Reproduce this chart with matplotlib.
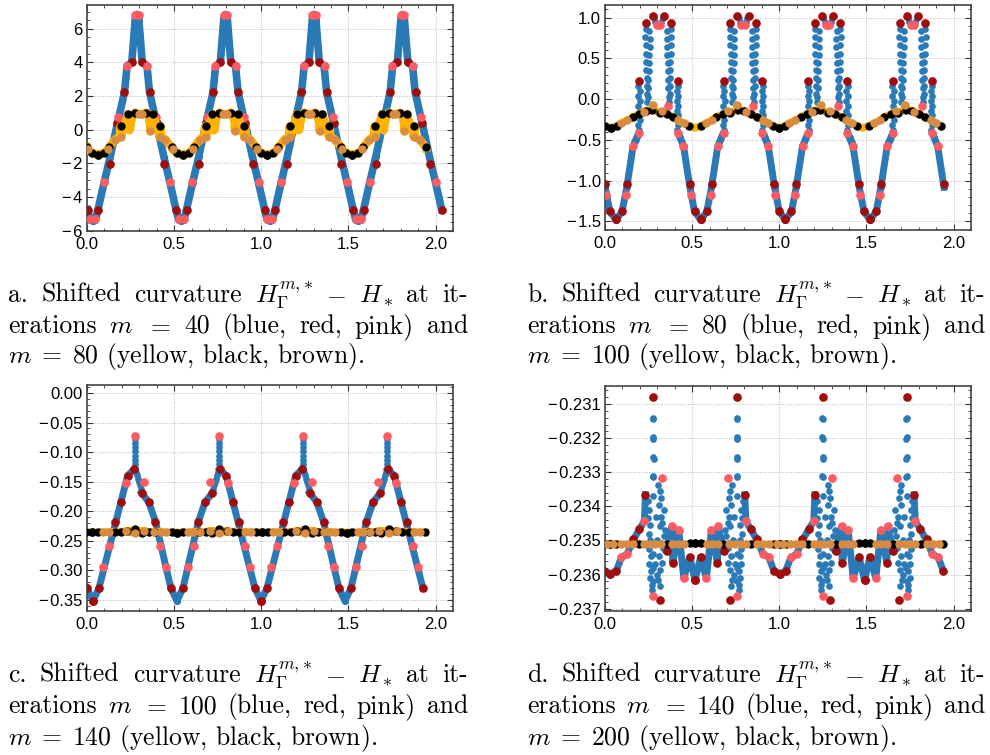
import numpy as np
import matplotlib
matplotlib.use("Agg")
import matplotlib.pyplot as plt
from matplotlib.ticker import AutoMinorLocator, MultipleLocator, FuncFormatter

plt.rcParams["font.family"] = ["Liberation Sans", "DejaVu Sans"]
plt.rcParams["mathtext.fontset"] = "cm"

nan = np.nan

# values. d = distance from the first trough; every list
# covers half a cycle, the other half is its mirror image

# m = 40 (trough -> peak)
d40_line = [0.000, 0.015, 0.030, 0.065, 0.100, 0.140, 0.182, 0.197, 0.224, 0.244, 0.254]
y40_line = [-5.40, -5.35, -4.74, -3.14, -1.60, 0.30, 2.22, 3.80, 4.00, 6.60, 6.85]
d40_red = [0.030, 0.099, 0.141, 0.180, 0.223]
y40_red = [-4.74, -2.06, 0.40, 2.24, 4.04]
d40_pink = [0.015, 0.064, 0.147, 0.194, 0.244]
y40_pink = [-5.30, -3.13, 0.76, 3.80, 6.80]

# m = 80 (trough -> peak), nan = no line in the scattered part
d80_line = [0.000, 0.035, 0.062, 0.098, 0.125, 0.200]
y80_line = [-1.48, -1.38, -1.08, -0.58, -0.44, nan]
d80_cloud = [0.105, 0.112, 0.118,
             0.128, 0.136, 0.128, 0.137, 0.129, 0.137, 0.129, 0.136, 0.128, 0.134,
             0.170, 0.192, 0.168, 0.194, 0.170, 0.193, 0.172, 0.191, 0.174, 0.189,
             0.175, 0.187, 0.176, 0.186, 0.177, 0.185, 0.178, 0.184, 0.180,
             0.218, 0.226]
y80_cloud = [-0.53, -0.50, -0.47,
             0.16, 0.10, 0.04, -0.02, -0.08, -0.14, -0.20, -0.26, -0.32, -0.38,
             0.86, 0.84, 0.76, 0.74, 0.66, 0.64, 0.56, 0.54, 0.46, 0.44,
             0.36, 0.34, 0.26, 0.24, 0.16, 0.14, 0.06, 0.03, -0.04,
             0.99, 0.95]
d80_red = [0.000, 0.035, 0.063, 0.132, 0.170, 0.211]
y80_red = [-1.47, -1.37, -1.04, 0.228, 0.935, 1.025]
d80_pink = [0.058, 0.099, 0.132, 0.234]
y80_pink = [-1.17, -0.58, -0.42, 0.914]
x80_pink_extra = [0.363, 0.849, 1.335, 1.821]
y80_pink_extra = [-0.08, -0.08, -0.08, -0.08]

# m = 100 (trough -> next trough)
d100_line = [0.000, 0.035, 0.199, 0.237, 0.239, 0.279, 0.321, 0.359, 0.447, 0.482]
y100_line = [-0.352, -0.330, -0.140, -0.129, nan, -0.169, -0.185, -0.218, -0.330, -0.352]
d100_spike = [0.240, 0.242, 0.240, 0.242, 0.240, 0.242, 0.241, 0.243,
              0.247, 0.251, 0.256, 0.262, 0.268, 0.274]
y100_spike = [-0.078, -0.085, -0.092, -0.099, -0.106, -0.113, -0.120, -0.127,
              -0.133, -0.139, -0.145, -0.150, -0.156, -0.162]
d100_red = [0.000, 0.035, 0.126, 0.161, 0.199, 0.237, 0.279, 0.321, 0.359, 0.447]
y100_red = [-0.352, -0.330, -0.218, -0.185, -0.140, -0.129, -0.169, -0.185, -0.218, -0.330]
d100_pink = [0.060, 0.094, 0.190, 0.241, 0.291, 0.384, 0.417]
y100_pink = [-0.294, -0.259, -0.152, -0.072, -0.150, -0.259, -0.294]

# m = 140 (U trough -> W trough)
d140_line = [0.000, 0.034, 0.063, 0.096, 0.130, 0.166, 0.195, 0.201, 0.250,
             0.322, 0.354, 0.358, 0.392, 0.421, 0.455, 0.486]
y140_line = [-0.23598, -0.23589, -0.23550, -0.23540, -0.23500, -0.23467, -0.23444, -0.23366, nan,
             -0.23530, -0.23459, -0.23566, -0.23469, -0.23610, -0.23549, -0.23617]
d140_cloud = [0.244, 0.247, 0.244, 0.247, 0.245, 0.248, 0.244, 0.247, 0.245, 0.245, 0.247, 0.244,
              0.214, 0.222, 0.216, 0.226, 0.219, 0.229, 0.221, 0.231, 0.224, 0.234, 0.227, 0.237, 0.236,
              0.275, 0.283, 0.290, 0.279, 0.293, 0.297, 0.283, 0.306, 0.290, 0.300, 0.278,
              0.295, 0.285, 0.272, 0.282, 0.310, 0.315, 0.268, 0.262, 0.258, 0.265]
y140_cloud = [-0.23140, -0.23145, -0.23198, -0.23202, -0.23255, -0.23260, -0.23310, -0.23315,
              -0.23370, -0.23540, -0.23580, -0.23620,
              -0.23385, -0.23410, -0.23435, -0.23455, -0.23480, -0.23500, -0.23525, -0.23545,
              -0.23570, -0.23590, -0.23610, -0.23630, -0.23645,
              -0.23337, -0.23354, -0.23376, -0.23396, -0.23430, -0.23449, -0.23459, -0.23488,
              -0.23508, -0.23522, -0.23547, -0.23566, -0.23586, -0.23615, -0.23635, -0.23410,
              -0.23470, -0.23500, -0.23430, -0.23570, -0.23600]
d140_red = [0.000, 0.034, 0.130, 0.166, 0.201, 0.245, 0.287, 0.322, 0.358, 0.455, 0.486]
y140_red = [-0.23598, -0.23589, -0.23496, -0.23467, -0.23366, -0.23079, -0.23674,
            -0.23530, -0.23566, -0.23549, -0.23617]
d140_pink = [0.063, 0.096, 0.195, 0.245, 0.297, 0.354, 0.392, 0.421]
y140_pink = [-0.23550, -0.23540, -0.23444, -0.23662, -0.23317, -0.23459, -0.23469, -0.23610]

# m = 200 (U trough -> W trough)
d200_line = [0.000, 0.034, 0.486]
y200_line = [-0.23510, -0.23510, -0.23510]
d200_black = [0.000, 0.034, 0.163, 0.325, 0.455, 0.486]
y200_black = [-0.23510, -0.23510, -0.23510, -0.23510, -0.23508, -0.23508]
d200_brown = [0.017, 0.060, 0.095, 0.130, 0.195, 0.225, 0.255, 0.290, 0.355, 0.390, 0.420]
y200_brown = [-0.23510] * 11

# where each curve starts (first trough), half cycle length, end of curve
geo40 = (0.033, 0.254, 2.032)
geo80 = (0.063, 0.243, 1.944)
geo100 = (0.034, 0.482, 1.930)
geo140 = (0.031, 0.486, 1.944)


def unfold(d, y, geo, tol=0.004):
    start, half, xmax = geo
    d = np.asarray(d, float)
    y = np.asarray(y, float)
    xs, ys = [], []
    for k in range(-1, 12):
        c = start + k * half
        if k % 2:
            xs.append(c + half - d[::-1])
            ys.append(y[::-1])
        else:
            xs.append(c + d)
            ys.append(y)
    x = np.concatenate(xs)
    y = np.concatenate(ys)
    keep = (x >= -tol) & (x <= xmax + tol)
    x, y = x[keep], y[keep]
    o = np.argsort(x, kind="stable")
    return x[o], y[o]


def dense(*parts):
    x = np.concatenate([p[0] for p in parts])
    y = np.concatenate([p[1] for p in parts])
    ok = ~np.isnan(y)
    x, y = x[ok], y[ok]
    o = np.argsort(x, kind="stable")
    return x[o], y[o]


c40 = dict(line=unfold(d40_line, y40_line, geo40),
           red=unfold(d40_red, y40_red, geo40),
           pink=unfold(d40_pink, y40_pink, geo40))
c80 = dict(line=unfold(d80_line, y80_line, geo80),
           cloud=unfold(d80_cloud, y80_cloud, geo80),
           red=unfold(d80_red, y80_red, geo80),
           pink=dense(unfold(d80_pink, y80_pink, geo80),
                      (np.array(x80_pink_extra), np.array(y80_pink_extra))))
c100 = dict(line=unfold(d100_line, y100_line, geo100),
            cloud=unfold(d100_spike, y100_spike, geo100),
            red=unfold(d100_red, y100_red, geo100),
            pink=unfold(d100_pink, y100_pink, geo100))
c140 = dict(line=unfold(d140_line, y140_line, geo140),
            cloud=unfold(d140_cloud, y140_cloud, geo140),
            red=unfold(d140_red, y140_red, geo140),
            pink=unfold(d140_pink, y140_pink, geo140))
c200 = dict(line=unfold(d200_line, y200_line, geo140),
            red=unfold(d200_black, y200_black, geo140),
            pink=unfold(d200_brown, y200_brown, geo140))

BLUE = "#2a7ab8"
RED = "#a00d0d"
PINK = "#ff5c62"
ORANGE = "#ffb300"
BROWN = "#d98b42"

fig = plt.figure(figsize=(9.9, 7.55), dpi=100)
W, H = 990, 755


def make_ax(x0, x1, y0, y1):
    return fig.add_axes([x0 / W, 1 - y1 / H, (x1 - x0) / W, (y1 - y0) / H])


axa = make_ax(87, 453, 5, 231)
axb = make_ax(605, 971, 5, 230)
axc = make_ax(87, 453, 385, 611)
axd = make_ax(605, 971, 386, 611)


def blue_set(ax, c, lw=5):
    ax.plot(*c["line"], "-o", color=BLUE, lw=lw, ms=4, zorder=2)
    if "cloud" in c:
        ax.plot(*c["cloud"], "o", color=BLUE, ms=3.8, zorder=2)
    ax.plot(*c["red"], "o", color=RED, ms=5.2, zorder=3)
    ax.plot(*c["pink"], "o", color=PINK, ms=5.2, zorder=3)


def orange_set(ax, c, lw=5.5):
    parts = [c["line"], c["red"], c["pink"]]
    if "cloud" in c:
        parts.append(c["cloud"])
    ax.plot(*dense(*parts), "-", color=ORANGE, lw=lw, zorder=4)
    ax.plot(*c["red"], "o", color="black", ms=5, zorder=5)
    ax.plot(*c["pink"], "o", color=BROWN, ms=5, zorder=5)


blue_set(axa, c40, lw=5.5)
orange_set(axa, c80, lw=6)
blue_set(axb, c80)
orange_set(axb, c100)
blue_set(axc, c100)
orange_set(axc, c140)
blue_set(axd, c140)
axd.plot(*c200["line"], "-", color=ORANGE, lw=4.5, zorder=4)
axd.plot(*c200["red"], "o", color="black", ms=5, zorder=5)
axd.plot(*c200["pink"], "o", color=BROWN, ms=5, zorder=5)


def fmt(f):
    return FuncFormatter(lambda v, p: (f % v).replace("-", "\u2212\u200a"))


axa.set_ylim(-6.01, 7.41)
axa.yaxis.set_major_locator(MultipleLocator(2))
axa.yaxis.set_major_formatter(fmt("%.0f"))
axb.set_ylim(-1.605, 1.155)
axb.yaxis.set_major_locator(MultipleLocator(0.5))
axb.yaxis.set_major_formatter(fmt("%.1f"))
axc.set_ylim(-0.369, 0.0135)
axc.yaxis.set_major_locator(MultipleLocator(0.05))
axc.yaxis.set_major_formatter(fmt("%.2f"))
axd.set_ylim(-0.23707, -0.23047)
axd.yaxis.set_major_locator(MultipleLocator(0.001))
axd.yaxis.set_major_formatter(fmt("%.3f"))

for ax in (axa, axb, axc, axd):
    ax.set_xlim(0, 2.1)
    ax.xaxis.set_major_locator(MultipleLocator(0.5))
    ax.xaxis.set_major_formatter(fmt("%.1f"))
    ax.xaxis.set_minor_locator(AutoMinorLocator(5))
    ax.yaxis.set_minor_locator(AutoMinorLocator())
    ax.tick_params(which="both", direction="in", top=True, right=True,
                   labelsize=12, color="#333333")
    ax.tick_params(axis="y", pad=3)
    ax.tick_params(axis="x", pad=4.5)
    ax.tick_params(which="major", length=4, width=0.8)
    ax.tick_params(which="minor", length=2, width=0.6)
    ax.grid(True, which="major", ls=":", lw=0.7, color="#b8b8b8")
    ax.set_axisbelow(True)
    for s in ax.spines.values():
        s.set_linewidth(1.2)
        s.set_color("#444444")

# captions, first two lines justified
cap = dict(family="cmr10", fontsize=18.5, va="baseline", ha="left")
renderer = fig.canvas.get_renderer()


def justify(tokens, x0, x1, yb):
    texts = [fig.text(x0 / W, 1 - yb / H, t, **cap) for t in tokens]
    widths = [t.get_window_extent(renderer).width for t in texts]
    gap = ((x1 - x0) - sum(widths)) / (len(tokens) - 1)
    pos = x0
    for t, w in zip(texts, widths):
        t.set_x(pos / W)
        pos += w + gap


captions = [
    ("a", "40", "80", 8, 468, (302, 333, 363)),
    ("b", "80", "100", 527, 985, (302, 333, 363)),
    ("c", "100", "140", 8, 468, (682, 713, 745)),
    ("d", "140", "200", 527, 985, (682, 713, 745)),
]
for letter, m1, m2, x0, x1, ys in captions:
    justify([letter + ".", "Shifted", "curvature", r"$H_\Gamma^{m{,}*}$", r"$-$", r"$H_*$", "at", "it-"],
            x0, x1, ys[0])
    justify(["erations", "$m$", "$=$", m1, "(blue,", "red,", "pink)", "and"], x0, x1, ys[1])
    fig.text(x0 / W, 1 - ys[2] / H, r"$m\;=\;" + m2 + "$ (yellow, black, brown).", **cap)

fig.savefig("out.png", dpi=100)
